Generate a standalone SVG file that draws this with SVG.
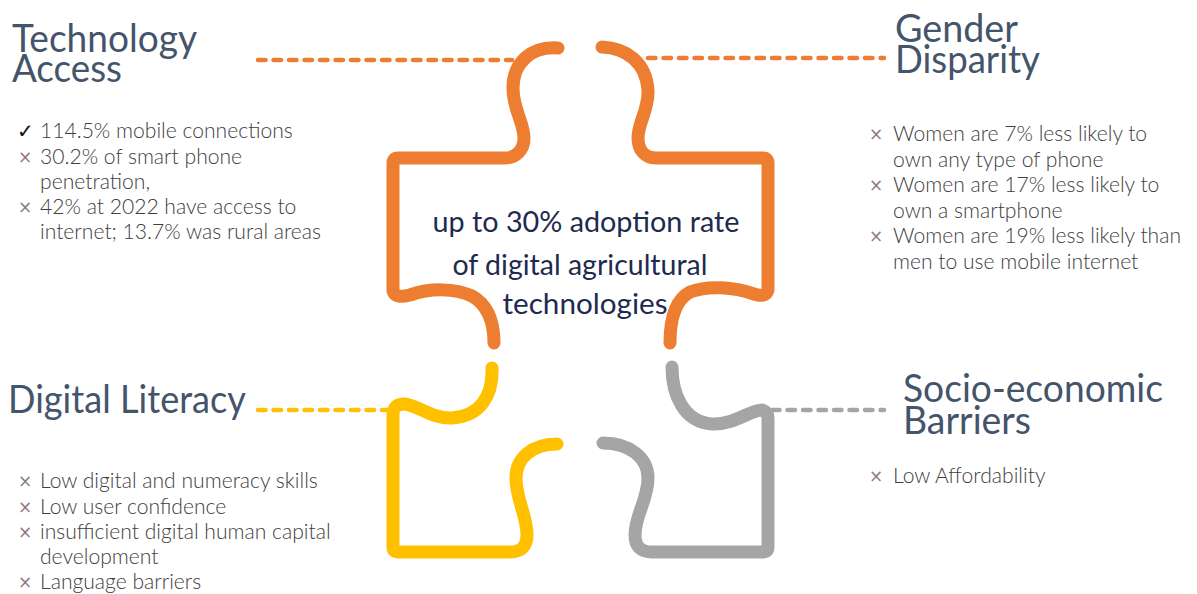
<svg xmlns="http://www.w3.org/2000/svg" width="1197" height="594" viewBox="0 0 1197 594">
<style>
.title{font-family:Lato,"Open Sans",sans-serif;font-size:39px;fill:#44546A;}
.body{font-family:Lato,"Open Sans",sans-serif;font-weight:300;font-size:21.1px;fill:#404040;}
.x{font-family:"DejaVu Sans",sans-serif;font-size:17px;fill:#8E7C82;}
.chk{font-family:"DejaVu Sans",sans-serif;font-size:20px;fill:#111;}
.center{font-family:Lato,"Open Sans",sans-serif;font-size:28px;fill:#1F2A50;text-anchor:middle;}
.piece{fill:none;stroke-width:13;stroke-linecap:round;stroke-linejoin:round;}
.dash{fill:none;stroke-width:4.5;stroke-linecap:round;stroke-dasharray:7.5 8;}
</style>
<rect width="1197" height="594" fill="#fff"/>
<g id="connectors">
<line class="dash" x1="258" y1="60" x2="512" y2="60" stroke="#ED7D31"/>
<line class="dash" x1="648" y1="58" x2="884" y2="58" stroke="#ED7D31"/>
<line class="dash" x1="258" y1="410" x2="392" y2="410" stroke="#FFC000"/>
<line class="dash" x1="772" y1="410" x2="884" y2="410" stroke="#A5A5A5"/>
</g>
<g id="center-piece">
<path class="piece" stroke="#ED7D31" d="M558,48 C532,46 513,62 513,88 C513,110 524,122 524,138 C524,150 516,158 505,158 L398,158 Q393,158 393,163 L393,291 Q395,299 410,295 C430,288 455,288 472,296 C488,305 494,322 494,343"/>
<path class="piece" stroke="#ED7D31" d="M602,47 C626,48 646,62 648,90 C649,110 638,122 638,138 C638,150 645,158 656,158 L763,158 Q768,158 768,163 L768,290 Q766,298 754,294 C734,287 708,285 690,292 C675,300 670,320 670,343"/>
<text class="center" x="586" y="232" textLength="307" lengthAdjust="spacingAndGlyphs">up to 30% adoption rate</text>
<text class="center" x="580" y="275" textLength="255" lengthAdjust="spacingAndGlyphs">of digital agricultural</text>
<text class="center" x="585" y="314" textLength="165" lengthAdjust="spacingAndGlyphs">technologies</text>
</g>
<g id="digital-literacy-piece">
<path class="piece" stroke="#FFC000" d="M492,368 C493,395 481,416 452,418 C432,419 418,405 404,404 Q393,404 393,415 L393,547 Q393,552 398,552 L510,552 Q527,552 527,535 C527,515 516,500 516,478 C516,458 532,444 557,444"/>
</g>
<g id="socio-economic-piece">
<path class="piece" stroke="#A5A5A5" d="M672,367 C672,395 684,422 712,424 C734,425 750,410 762,410 Q768,412 768,418 L768,547 Q768,552 763,552 L652,552 Q635,552 635,535 C635,515 648,500 648,478 C648,458 630,443 603,443"/>
</g>
<g id="technology-access">
<text class="title" x="12" y="52" textLength="185" lengthAdjust="spacingAndGlyphs">Technology</text>
<text class="title" x="12" y="82" textLength="110" lengthAdjust="spacingAndGlyphs">Access</text>
<text class="chk" x="17" y="138">✓</text>
<text class="body" x="40" y="138">114.5% mobile connections</text>
<text class="x" x="18" y="163">×</text>
<text class="body" x="40" y="164">30.2% of smart phone</text>
<text class="body" x="40" y="189">penetration,</text>
<text class="x" x="18" y="213">×</text>
<text class="body" x="40" y="214">42% at 2022 have access to</text>
<text class="body" x="40" y="239">internet; 13.7% was rural areas</text>
</g>
<g id="gender-disparity">
<text class="title" x="895" y="42" textLength="123" lengthAdjust="spacingAndGlyphs">Gender</text>
<text class="title" x="895" y="73" textLength="145" lengthAdjust="spacingAndGlyphs">Disparity</text>
<text class="x" x="869" y="140">×</text>
<text class="body" x="893" y="141">Women are 7% less likely to</text>
<text class="body" x="893" y="167">own any type of phone</text>
<text class="x" x="869" y="191">×</text>
<text class="body" x="893" y="192">Women are 17% less likely to</text>
<text class="body" x="893" y="218">own a smartphone</text>
<text class="x" x="869" y="242">×</text>
<text class="body" x="893" y="243">Women are 19% less likely than</text>
<text class="body" x="893" y="269">men to use mobile internet</text>
</g>
<g id="digital-literacy">
<text class="title" x="8" y="413" textLength="238" lengthAdjust="spacingAndGlyphs">Digital Literacy</text>
<text class="x" x="18" y="487">×</text>
<text class="body" x="40" y="488">Low digital and numeracy skills</text>
<text class="x" x="18" y="513">×</text>
<text class="body" x="40" y="514">Low user confidence</text>
<text class="x" x="18" y="538">×</text>
<text class="body" x="40" y="539">insufficient digital human capital</text>
<text class="body" x="40" y="564">development</text>
<text class="x" x="18" y="588">×</text>
<text class="body" x="40" y="589">Language barriers</text>
</g>
<g id="socio-economic-barriers">
<text class="title" x="903" y="402" textLength="260" lengthAdjust="spacingAndGlyphs">Socio-economic</text>
<text class="title" x="903" y="434" textLength="128" lengthAdjust="spacingAndGlyphs">Barriers</text>
<text class="x" x="869" y="482">×</text>
<text class="body" x="893" y="483">Low Affordability</text>
</g>
</svg>
